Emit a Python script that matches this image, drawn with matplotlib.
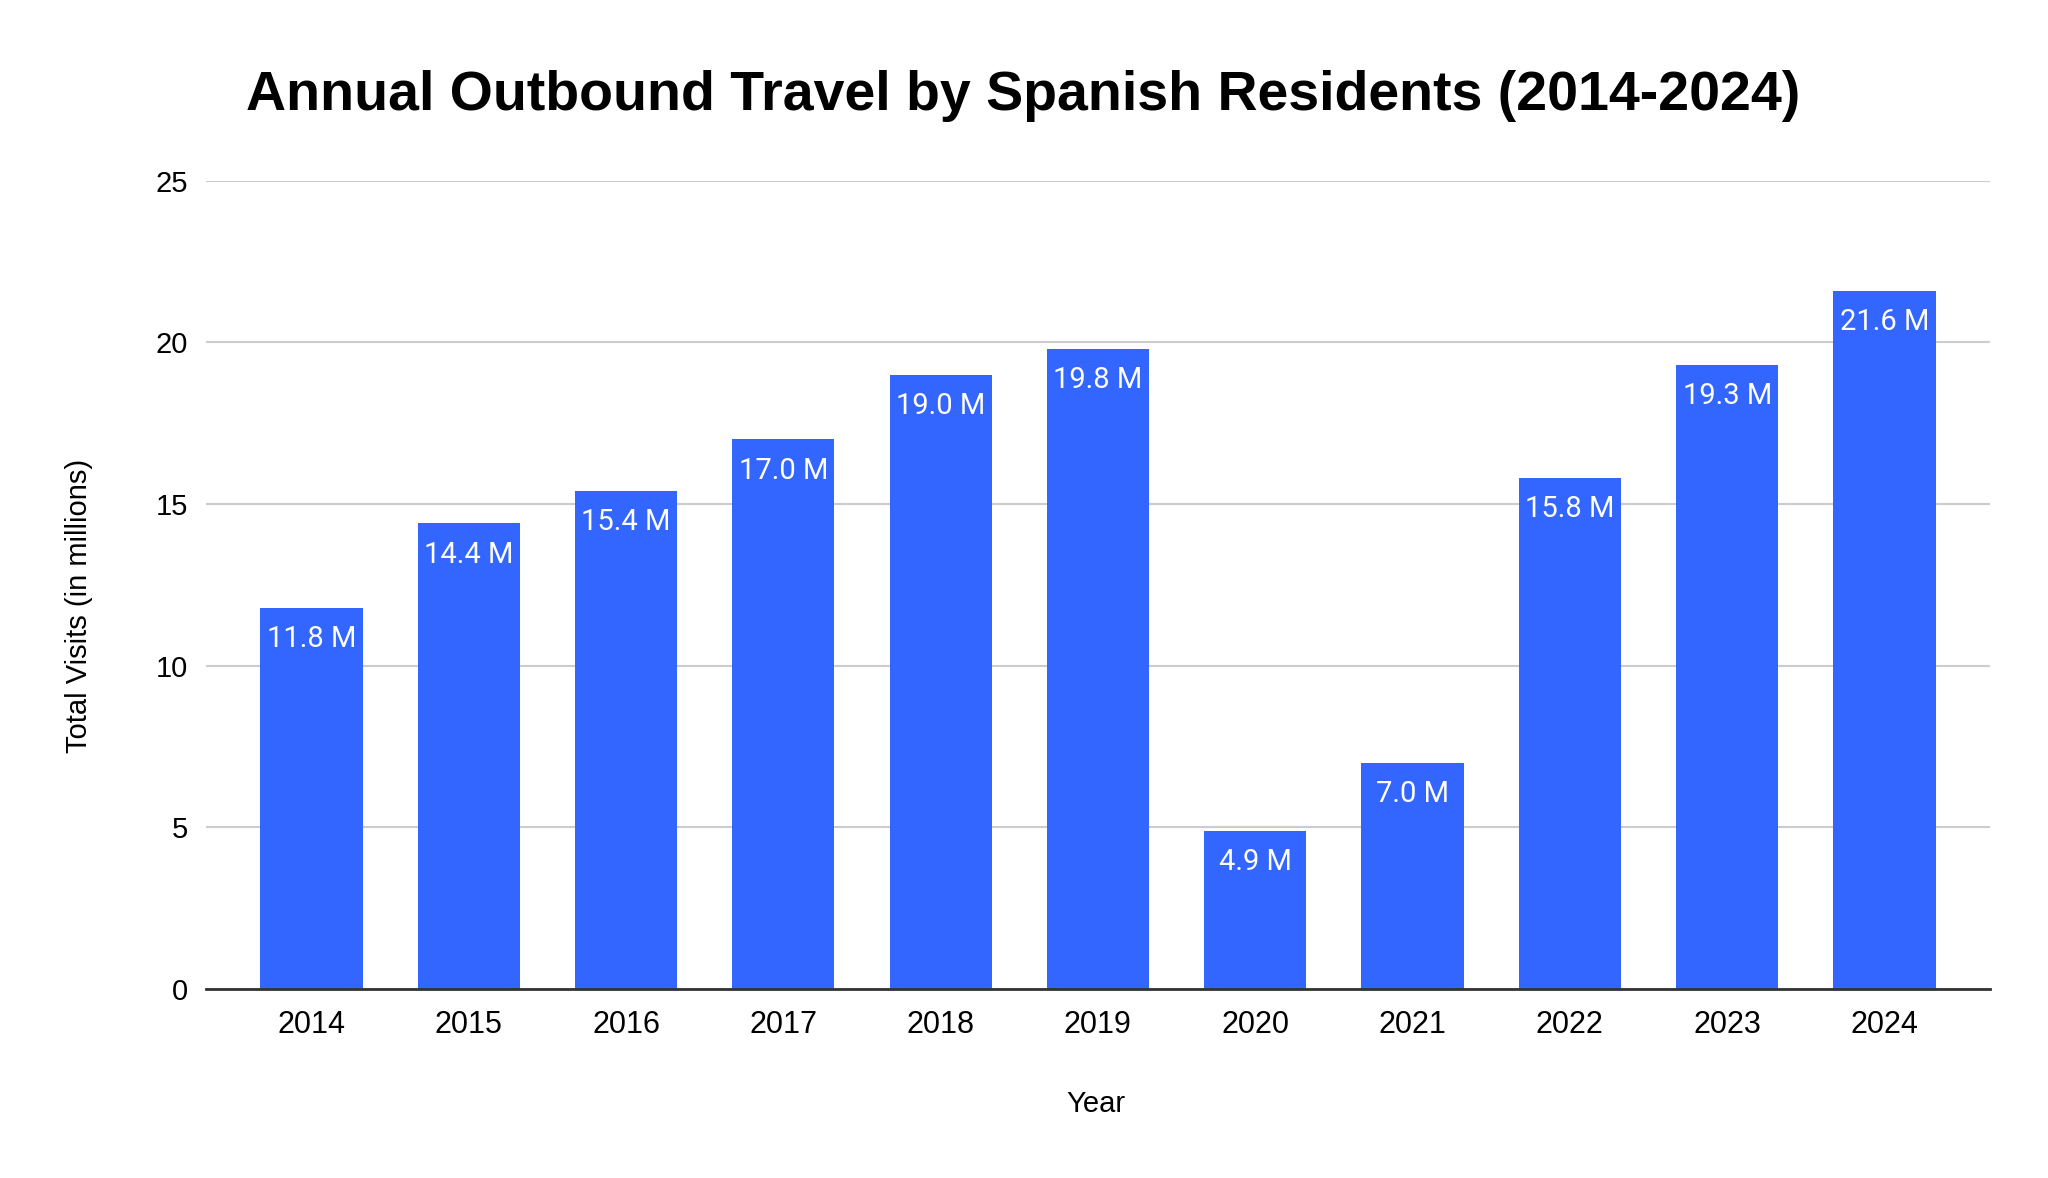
import matplotlib
matplotlib.use("Agg")
import matplotlib.pyplot as plt

# data
years = ["2014", "2015", "2016", "2017", "2018", "2019", "2020", "2021", "2022", "2023", "2024"]
visits = [11.8, 14.4, 15.4, 17.0, 19.0, 19.8, 4.9, 7.0, 15.8, 19.3, 21.6]
bar_labels = [f"{v:.1f} M" for v in visits]
y_ticks = [0, 5, 10, 15, 20, 25]

BAR_COLOR = "#3366ff"

fig = plt.figure(figsize=(20.48, 11.78), dpi=100)
ax = fig.add_axes([0.1006, 0.1605, 0.871, 0.686])

x = list(range(len(years)))
bars = ax.bar(x, visits, width=0.65, color=BAR_COLOR, zorder=3)

# value labels inside the top of each bar
for rect, lab in zip(bars, bar_labels):
    ax.annotate(lab, (rect.get_x() + rect.get_width() / 2, rect.get_height()),
                xytext=(0, -22.5), textcoords="offset points",
                ha="center", va="center", color="white",
                fontsize=21, family="Roboto", zorder=4)

ax.set_xlim(-0.67, len(years) - 1 + 0.67)
ax.set_ylim(0, 25)
ax.set_yticks(y_ticks)
ax.set_xticks(x)
ax.set_xticklabels(years)

ax.grid(axis="y", color="#cccccc", linewidth=1.5, zorder=0)
for side in ["top", "right", "left"]:
    ax.spines[side].set_visible(False)
ax.spines["bottom"].set_color("#333333")
ax.spines["bottom"].set_linewidth(2)
ax.spines["bottom"].set_zorder(5)

ax.tick_params(axis="both", length=0, labelsize=21)
ax.tick_params(axis="x", pad=15, labelsize=22)
ax.tick_params(axis="y", pad=13)
for t in ax.get_xticklabels() + ax.get_yticklabels():
    t.set_family("Liberation Sans")

fig.text(0.4995, 0.9186, "Annual Outbound Travel by Spanish Residents (2014-2024)",
         ha="center", va="center", fontsize=40, fontweight="bold",
         family="Liberation Sans")
fig.text(0.535, 0.063, "Year", ha="center", va="center", fontsize=21,
         family="Liberation Sans")
fig.text(0.0386, 0.486, "Total Visits (in millions)", ha="center", va="center",
         rotation=90, fontsize=21, family="Liberation Sans")

fig.savefig("out.png", dpi=100, facecolor="white")
